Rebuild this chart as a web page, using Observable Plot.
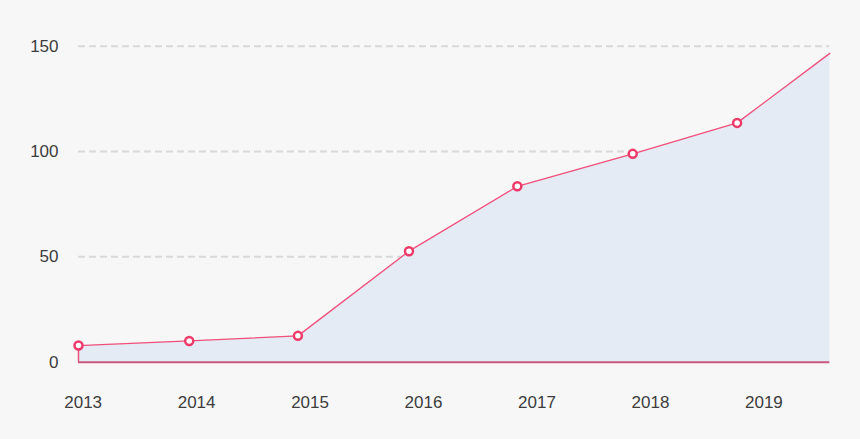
<!DOCTYPE html>
<html>
<head>
<meta charset="utf-8">
<script src="https://cdn.jsdelivr.net/npm/d3@7"></script>
<script src="https://cdn.jsdelivr.net/npm/@observablehq/plot@0.6"></script>
<style>
  html, body { margin: 0; padding: 0; background: #f7f7f7; }
  #chart svg { display: block; background: #f7f7f7; }
</style>
</head>
<body>
<div id="chart"></div>
<script>
const times = [2012.959, 2013.935, 2014.893, 2015.872, 2016.827, 2017.844, 2018.764, 2019.581];
const values = [7.9, 10.1, 12.5, 52.7, 83.5, 98.9, 113.6, 146.6];
const showMarker = [true, true, true, true, true, true, true, false];
const xTicks = [2013, 2014, 2015, 2016, 2017, 2018, 2019];
const yTicks = [0, 50, 100, 150];
const gridTicks = [50, 100, 150];

const data = times.map((t, i) => ({t, v: values[i], m: showMarker[i]}));

const chart = Plot.plot({
  width: 860,
  height: 439,
  marginLeft: 78,
  marginRight: 30.7,
  marginTop: 45.7,
  marginBottom: 77.3,
  style: {background: "#f7f7f7", fontFamily: "Liberation Sans, Arial, sans-serif", fontSize: "17px", color: "#3d3d3d"},
  x: {domain: [times[0], times[times.length - 1]], label: null},
  y: {domain: [0, 150], label: null},
  marks: [
    Plot.ruleY(gridTicks, {stroke: "#d9d9d9", strokeWidth: 2, strokeDasharray: "7,4"}),
    Plot.areaY(data, {x: "t", y: "v", fill: "#e4ebf5"}),
    Plot.ruleX([data[0]], {x: "t", y1: 0, y2: "v", stroke: "#e8507a", strokeWidth: 1.5}),
    Plot.ruleY([0], {stroke: "#c9577c", strokeWidth: 2}),
    Plot.lineY(data, {x: "t", y: "v", stroke: "#f2507a", strokeWidth: 1.3}),
    Plot.dot(data.filter(d => d.m), {x: "t", y: "v", r: 4, fill: "white", stroke: "#ee3a68", strokeWidth: 2.5}),
    Plot.axisX(xTicks, {tickSize: 0, tickPadding: 34, tickFormat: d => String(d), fill: "#3d3d3d", fontSize: 17, label: null}),
    Plot.axisY(yTicks, {tickSize: 0, tickPadding: 20, fill: "#3d3d3d", fontSize: 17, label: null})
  ]
});
document.getElementById("chart").append(chart);
</script>
</body>
</html>
